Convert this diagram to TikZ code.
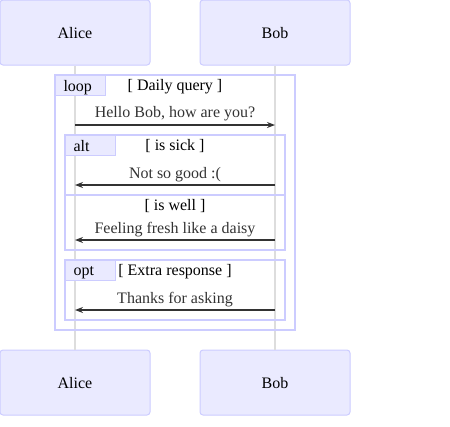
\documentclass[tikz,border=0pt]{standalone}
\usepackage{fontspec}
\setmainfont{Liberation Serif}
\usetikzlibrary{arrows.meta}
\definecolor{actorfill}{HTML}{EAEAFF}
\definecolor{actorline}{HTML}{CCCCFF}
\definecolor{lifegray}{HTML}{DDDDDD}
\definecolor{msggray}{HTML}{333333}
\tikzset{
  actor/.style={draw=actorline, fill=actorfill, line width=1pt, rounded corners=3pt,
    minimum width=150pt, minimum height=65pt, inner sep=0pt, text depth=0pt,
    font=\fontsize{16pt}{18pt}\selectfont},
  frame/.style={draw=actorline, line width=2pt},
  tag/.style={draw=actorline, fill=actorfill, line width=1pt, minimum width=50pt,
    minimum height=20pt, inner xsep=8pt, inner ysep=0pt, text width=34pt, align=left,
    text depth=0pt, anchor=north west, font=\fontsize{16pt}{18pt}\selectfont},
  guard/.style={inner sep=0pt, font=\fontsize{16pt}{18pt}\selectfont},
  msgtext/.style={inner sep=0pt, text=msggray, font=\fontsize{16pt}{18pt}\selectfont},
  msg/.style={draw=msggray, line width=2pt, -{Stealth[length=8pt,width=6pt]}}
}
\begin{document}
\begin{tikzpicture}[x=1pt,y=-1pt]
  \useasboundingbox (0,0) rectangle (450,426);
  % actors top and bottom
  \node[actor] (aliceT) at (75,32.5) {Alice};
  \node[actor] (bobT) at (275,32.5) {Bob};
  \node[actor] (aliceB) at (75,382.5) {Alice};
  \node[actor] (bobB) at (275,382.5) {Bob};
  % lifelines
  \draw[lifegray, line width=1.5pt] (aliceT) -- (aliceB);
  \draw[lifegray, line width=1.5pt] (bobT) -- (bobB);
  % loop frame
  \draw[frame] (55,75) rectangle (295,330);
  \node[tag] (loopTag) at (55,75) {loop};
  \node[guard] (loopGuard) at (175,86.5) {[ Daily query ]};
  % message 1
  \coordinate (a1) at (75,125);
  \coordinate (b1) at (275,125);
  \draw[msg] (a1) -- (b1);
  \node[msgtext] (m1) at (175,114) {Hello Bob, how are you?};
  % alt frame
  \draw[frame] (65,135) rectangle (285,250);
  \draw[frame] (65,195) -- (285,195);
  \node[tag] (altTag) at (65,135) {alt};
  \node[guard] (altGuard1) at (175,146.5) {[ is sick ]};
  \coordinate (a2) at (75,185);
  \coordinate (b2) at (275,185);
  \draw[msg] (b2) -- (a2);
  \node[msgtext] (m2) at (175,174.5) {Not so good :(};
  \node[guard] (altGuard2) at (175,206.5) {[ is well ]};
  \coordinate (a3) at (75,240);
  \coordinate (b3) at (275,240);
  \draw[msg] (b3) -- (a3);
  \node[msgtext] (m3) at (175,229.5) {Feeling fresh like a daisy};
  % opt frame
  \draw[frame] (65,260) rectangle (285,320);
  \node[tag] (optTag) at (65,260) {opt};
  \node[guard] (optGuard) at (175,271.5) {[ Extra response ]};
  \coordinate (a4) at (75,310);
  \coordinate (b4) at (275,310);
  \draw[msg] (b4) -- (a4);
  \node[msgtext] (m4) at (175,299.5) {Thanks for asking};
\end{tikzpicture}
\end{document}
